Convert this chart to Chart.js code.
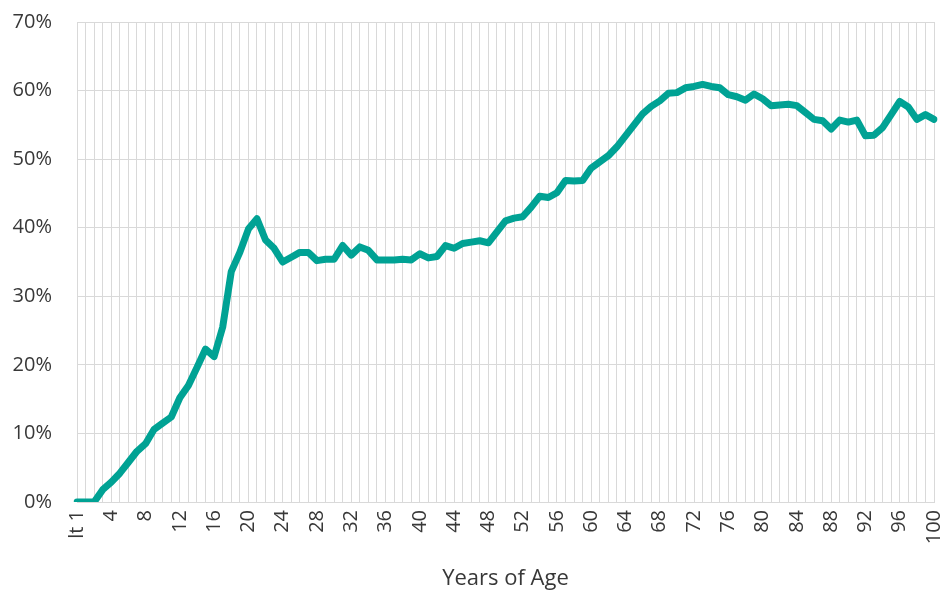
<!DOCTYPE html>
<html>
<head>
<meta charset="utf-8">
<script src="https://cdn.jsdelivr.net/npm/chart.js@4.4.1/dist/chart.umd.min.js"></script>
<style>
  html, body { margin: 0; padding: 0; background: #fff; }
  #wrap { width: 942px; height: 594px; }
</style>
</head>
<body>
<div id="wrap"><canvas id="age_chart"></canvas></div>
<script>
// categories: "lt 1" then ages 1..100
var ages = ['lt 1'];
for (var a = 1; a <= 100; a++) ages.push(String(a));

// share (%), one value per age
var share = [
  0, 0, 0, 1.8, 2.9, 4.2, 5.8, 7.4, 8.5, 10.6,
  11.5, 12.4, 15.2, 17.0, 19.6, 22.3, 21.2, 25.5, 33.6, 36.4,
  39.8, 41.3, 38.2, 37.0, 35.0, 35.7, 36.4, 36.4, 35.2, 35.4,
  35.4, 37.4, 36.0, 37.2, 36.7, 35.3, 35.3, 35.3, 35.4, 35.3,
  36.2, 35.6, 35.8, 37.4, 37.0, 37.7, 37.9, 38.1, 37.8, 39.4,
  41.0, 41.4, 41.6, 43.0, 44.6, 44.4, 45.1, 46.9, 46.8, 46.9,
  48.7, 49.6, 50.5, 51.8, 53.4, 55.0, 56.6, 57.7, 58.5, 59.6,
  59.7, 60.4, 60.6, 60.9, 60.6, 60.4, 59.4, 59.1, 58.6, 59.5,
  58.8, 57.8, 57.9, 58.0, 57.8, 56.8, 55.8, 55.6, 54.4, 55.7,
  55.4, 55.7, 53.4, 53.5, 54.6, 56.5, 58.4, 57.6, 55.8, 56.5,
  55.8
];

var yTicks = [0, 10, 20, 30, 40, 50, 60, 70];
var labelEvery = 4;

var textColor = '#383838';
var gridColor = '#d9d9d9';
var fontFamily = "'Open Sans', sans-serif";

var ctx = document.getElementById('age_chart');
var ageChart = new Chart(ctx, {
  type: 'line',
  data: {
    labels: ages,
    datasets: [{
      label: 'Share',
      data: share,
      borderColor: '#00a294',
      borderWidth: 7,
      borderCapStyle: 'round',
      borderJoinStyle: 'round',
      pointRadius: 0,
      tension: 0,
      fill: false
    }]
  },
  options: {
    responsive: true,
    maintainAspectRatio: false,
    animation: false,
    layout: {
      padding: { left: 0, right: 8, top: 22, bottom: 0 }
    },
    plugins: {
      legend: { display: false },
      tooltip: { enabled: false }
    },
    scales: {
      x: {
        type: 'category',
        offset: false,
        grid: { color: gridColor, lineWidth: 1, drawTicks: false },
        border: { color: gridColor, width: 1 },
        ticks: {
          autoSkip: false,
          maxRotation: 90,
          minRotation: 90,
          padding: 8,
          color: textColor,
          font: { family: fontFamily, size: 20 },
          callback: function (val, i) {
            return i % labelEvery === 0 ? ages[i] : '';
          }
        },
        title: {
          display: true,
          text: 'Years of Age',
          color: textColor,
          font: { family: fontFamily, size: 22 },
          padding: { top: 0, bottom: 2 }
        },
        afterFit: function (scale) {
          scale.height = 92;
          scale.paddingLeft = 0;
          scale.paddingRight = 0;
        }
      },
      y: {
        min: 0,
        max: 70,
        grid: { color: gridColor, lineWidth: 1, drawTicks: false },
        border: { color: gridColor, width: 1 },
        afterBuildTicks: function (scale) {
          scale.ticks = yTicks.map(function (v) { return { value: v }; });
        },
        ticks: {
          padding: 25,
          color: textColor,
          font: { family: fontFamily, size: 20 },
          callback: function (v) { return v + '%'; }
        },
        afterFit: function (scale) {
          scale.width = 77;
          scale.paddingTop = 0;
          scale.paddingBottom = 0;
        }
      }
    }
  }
});
</script>
</body>
</html>
